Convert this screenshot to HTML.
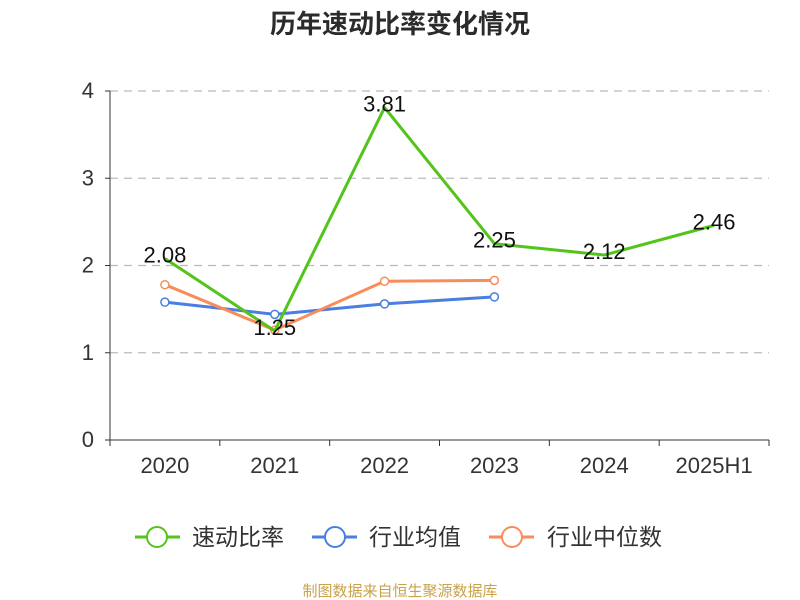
<!DOCTYPE html>
<html><head><meta charset="utf-8">
<style>
body{margin:0;background:#fff;}
svg{display:block;font-family:"Liberation Sans","Noto Sans CJK SC",sans-serif;}
</style></head>
<body>
<svg id="c" width="800" height="600">
<text x="400" y="33" text-anchor="middle" font-size="26" font-weight="bold" fill="#2b2b2b">历年速动比率变化情况</text>
<g id="grid"></g><g id="axes"></g><g id="series"></g>
<g>
<g>
<line x1="135" y1="537" x2="180" y2="537" stroke="#52c41a" stroke-width="3"/><circle cx="157" cy="537" r="10" fill="#fff" stroke="#52c41a" stroke-width="2"/>
<text x="192" y="545" font-size="23" fill="#333">速动比率</text></g>
<g>
<line x1="312" y1="537" x2="357" y2="537" stroke="#4a7ee0" stroke-width="3"/><circle cx="335" cy="537" r="10" fill="#fff" stroke="#4a7ee0" stroke-width="2"/>
<text x="369" y="545" font-size="23" fill="#333">行业均值</text></g>
<g>
<line x1="489" y1="537" x2="534" y2="537" stroke="#f98d5a" stroke-width="3"/><circle cx="512" cy="537" r="10" fill="#fff" stroke="#f98d5a" stroke-width="2"/>
<text x="547" y="545" font-size="23" fill="#333">行业中位数</text></g>
</g>
<text x="400" y="596" text-anchor="middle" font-size="15" fill="#c9a24a">制图数据来自恒生聚源数据库</text>
</svg>
<script>
const categories=["2020","2021","2022","2023","2024","2025H1"];
const quickRatio=[2.08,1.25,3.81,2.25,2.12,2.46];
const industryAvg=[1.58,1.44,1.56,1.64];
const industryMedian=[1.78,1.26,1.82,1.83];
const yTicks=[0,1,2,3,4];
const NS="http://www.w3.org/2000/svg";
const L=110,R=769,T=91,B=440,yMax=4;
const bw=(R-L)/categories.length;
const xs=i=>L+bw*(i+0.5);
const ys=v=>B-(v/yMax)*(B-T);
function mk(tag,attrs,parent){const e=document.createElementNS(NS,tag);for(const k in attrs)e.setAttribute(k,attrs[k]);parent.appendChild(e);return e;}
const grid=document.getElementById('grid'),axes=document.getElementById('axes'),ser=document.getElementById('series');
yTicks.forEach(t=>{
 if(t>0){const g=mk('line',{x1:L,x2:R,y1:ys(t),y2:ys(t),stroke:'#bbb','stroke-dasharray':'8,6','stroke-width':1.2},grid);
 
 }
 const tx=mk('text',{x:L-16,y:ys(t)+7,'text-anchor':'end','font-size':22,fill:'#333'},axes);tx.textContent=t;
 
 
 mk('line',{x1:L-5,x2:L,y1:ys(t),y2:ys(t),stroke:'#333'},axes);
});
const ya=mk('line',{x1:L,x2:L,y1:T,y2:B,stroke:'#333'},axes);


const xa=mk('line',{x1:L,x2:R,y1:B,y2:B,stroke:'#333'},axes);


for(let i=0;i<=categories.length;i++)mk('line',{x1:L+bw*i,x2:L+bw*i,y1:B,y2:B+6,stroke:'#333'},axes);
categories.forEach((c,i)=>{const t=mk('text',{x:xs(i),y:B+33,'text-anchor':'middle','font-size':22,fill:'#333'},axes);t.textContent=c;
 
 });
function series(vals,color,name,markers,labels){
 const g=mk('g',{},ser);
 
 
 mk('polyline',{points:vals.map((v,i)=>xs(i)+','+ys(v)).join(' '),fill:'none',stroke:color,'stroke-width':3,'stroke-linejoin':'round'},g);
 vals.forEach((v,i)=>{
  if(markers){const c=mk('circle',{cx:xs(i),cy:ys(v),r:4,fill:'#fff',stroke:color,'stroke-width':1.5},g);
  
  }
  if(labels){const t=mk('text',{x:xs(i),y:ys(v)+4,'text-anchor':'middle','font-size':22,fill:'#111'},g);t.textContent=v.toFixed(2);
  
  }
 });
}
series(industryAvg,'#4a7ee0','industry-average-line',true,false);
series(industryMedian,'#f98d5a','industry-median-line',true,false);
series(quickRatio,'#52c41a','quick-ratio-line',false,true);
</script>
</body></html>
